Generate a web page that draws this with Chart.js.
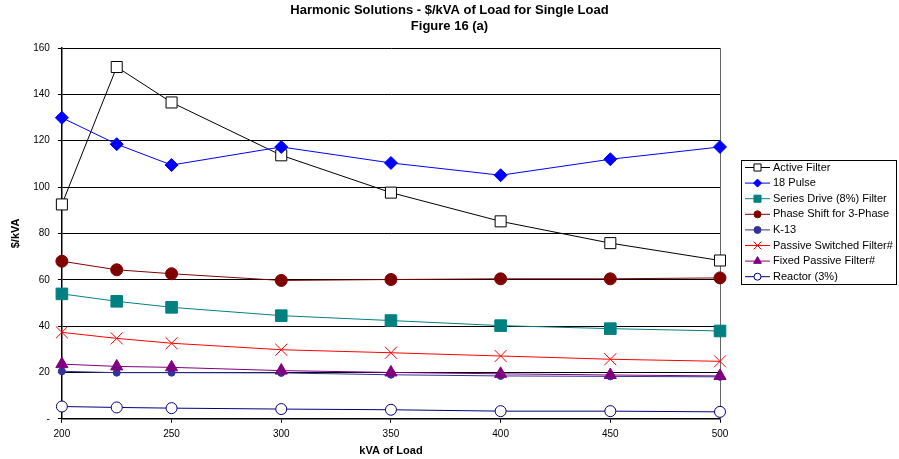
<!DOCTYPE html>
<html>
<head>
<meta charset="utf-8">
<script src="https://cdn.jsdelivr.net/npm/chart.js@4.4.0/dist/chart.umd.min.js"></script>
<style>
  body { margin: 0; background: #fff; }
  #wrap { width: 899px; height: 459px; position: relative; }
</style>
</head>
<body>
<div id="wrap"><canvas id="grafico"></canvas></div>
<script>
// datos
const kva = [200, 225, 250, 300, 350, 400, 450, 500];
const activeFilter = [92.5, 151.8, 136.5, 113.7, 97.6, 85.2, 75.8, 68.3];
const pulse18 = [129.9, 118.5, 109.5, 117.3, 110.4, 105.1, 112.0, 117.3];
const seriesDrive = [53.9, 50.7, 48.1, 44.5, 42.4, 40.2, 38.9, 37.9];
const phaseShift = [68.0, 64.3, 62.6, 59.7, 60.1, 60.4, 60.4, 60.8];
const k13 = [20.5, 19.9, 19.9, 19.8, 19.0, 18.5, 18.3, 18.1];
const passiveSwitched = [37.3, 34.7, 32.6, 29.8, 28.5, 27.1, 25.7, 24.8];
const fixedPassive = [23.6, 22.6, 22.2, 20.8, 20.0, 19.4, 18.9, 18.5];
const reactor = [5.3, 4.9, 4.6, 4.2, 3.9, 3.3, 3.3, 3.0];

const seriesNames = ['Active Filter', '18 Pulse', 'Series Drive (8%) Filter', 'Phase Shift for 3-Phase',
  'K-13', 'Passive Switched Filter#', 'Fixed Passive Filter#', 'Reactor (3%)'];
const seriesValues = [activeFilter, pulse18, seriesDrive, phaseShift, k13, passiveSwitched, fixedPassive, reactor];
const yTicks = [0, 20, 40, 60, 80, 100, 120, 140, 160];
const tituloLineas = ['Harmonic Solutions - $/kVA of Load for Single Load', 'Figure 16 (a)'];

// estilos de cada serie
const estilos = [
  { color: '#000000', fill: '#ffffff', shape: 'rect', r: 7.8, lr: 5 },
  { color: '#0000ff', fill: '#0000ff', shape: 'rectRot', r: 6.5, lr: 4 },
  { color: '#008080', fill: '#008080', shape: 'rect', r: 8.2, lr: 5 },
  { color: '#800000', fill: '#800000', shape: 'circle', r: 6, lr: 3.5 },
  { color: '#333399', fill: '#333399', shape: 'circle', r: 3.5, lr: 3.5 },
  { color: '#ff0000', fill: '#ff0000', shape: 'crossRot', r: 8.5, lr: 5.5 },
  { color: '#800080', fill: '#800080', shape: 'triangle', r: 7, lr: 4.5 },
  { color: '#000080', fill: '#ffffff', shape: 'circle', r: 5.5, lr: 3.5 }
];

const FONT = "'Liberation Sans', Arial, sans-serif";

const datasets = seriesNames.map((name, i) => ({
  label: name,
  data: kva.map((x, j) => ({ x: x, y: seriesValues[i][j] })),
  borderColor: estilos[i].color,
  backgroundColor: estilos[i].fill,
  pointBackgroundColor: estilos[i].fill,
  pointBorderColor: estilos[i].color,
  pointStyle: estilos[i].shape,
  pointRadius: estilos[i].r,
  pointBorderWidth: 1,
  borderWidth: 1,
  tension: 0,
  clip: false,
  order: 8 - i
}));

// titulo centrado en todo el lienzo
const titulo = {
  id: 'titulo',
  afterDraw(chart) {
    const ctx = chart.ctx;
    ctx.save();
    ctx.fillStyle = '#000';
    ctx.font = 'bold 13px ' + FONT;
    ctx.textAlign = 'center';
    ctx.textBaseline = 'middle';
    tituloLineas.forEach((t, i) => ctx.fillText(t, chart.width / 2, 10 + i * 16.7));
    ctx.restore();
  }
};

// leyenda con caja, linea y marcador
const leyenda = {
  id: 'leyenda',
  afterDraw(chart) {
    const ctx = chart.ctx;
    const x0 = 741.5, y0 = 160.5, w = 155, h = 124;
    ctx.save();
    ctx.fillStyle = '#fff';
    ctx.fillRect(x0, y0, w, h);
    ctx.strokeStyle = '#000';
    ctx.lineWidth = 1;
    ctx.strokeRect(x0, y0, w, h);
    ctx.font = '11px ' + FONT;
    ctx.textBaseline = 'middle';
    seriesNames.forEach((name, i) => {
      const y = 167.5 + i * 15.6;
      const e = estilos[i];
      ctx.strokeStyle = e.color;
      ctx.lineWidth = 1;
      ctx.beginPath();
      ctx.moveTo(745, y);
      ctx.lineTo(770, y);
      ctx.stroke();
      ctx.fillStyle = e.fill;
      Chart.helpers.drawPoint(ctx, { pointStyle: e.shape, radius: e.lr, rotation: 0, borderWidth: 1 }, 757.5, y);
      ctx.fillStyle = '#000';
      ctx.fillText(name, 773, y);
    });
    ctx.restore();
  }
};

// borde derecho del area
const bordeDerecho = {
  id: 'bordeDerecho',
  beforeDatasetsDraw(chart) {
    const a = chart.chartArea;
    const ctx = chart.ctx;
    ctx.save();
    ctx.strokeStyle = '#666';
    ctx.lineWidth = 1;
    ctx.beginPath();
    ctx.moveTo(Math.round(a.right) + 0.5, a.top);
    ctx.lineTo(Math.round(a.right) + 0.5, a.bottom);
    ctx.stroke();
    ctx.restore();
  }
};

new Chart(document.getElementById('grafico'), {
  type: 'line',
  data: { datasets: datasets },
  options: {
    responsive: true,
    maintainAspectRatio: false,
    animation: false,
    layout: { padding: { left: 0, right: 179, top: 48, bottom: 1 } },
    plugins: {
      legend: { display: false },
      tooltip: { enabled: false },
      title: { display: false }
    },
    scales: {
      x: {
        type: 'linear',
        min: 200,
        max: 500,
        ticks: { stepSize: 50, color: '#000', font: { family: FONT, size: 10 }, padding: 5, maxRotation: 0 },
        grid: { drawOnChartArea: false, tickLength: 4, tickColor: '#000' },
        border: { color: '#000', width: 1.5 },
        title: { display: true, text: 'kVA of Load', color: '#000', font: { family: FONT, size: 11, weight: 'bold' }, padding: { top: 0, bottom: 0 } }
      },
      y: {
        min: 0,
        max: 160,
        afterBuildTicks(scale) { scale.ticks = yTicks.map(v => ({ value: v })); },
        ticks: {
          color: '#000',
          font: { family: FONT, size: 10 },
          padding: 8,
          callback: v => v === 0 ? '-' : v
        },
        grid: { color: '#000', lineWidth: 1, tickLength: 4, tickColor: '#000' },
        border: { color: '#000', width: 1.5 },
        title: { display: true, text: '$/kVA', color: '#000', font: { family: FONT, size: 11, weight: 'bold' }, padding: { top: 9, bottom: 3 } }
      }
    }
  },
  plugins: [bordeDerecho, titulo, leyenda]
});
</script>
</body>
</html>
